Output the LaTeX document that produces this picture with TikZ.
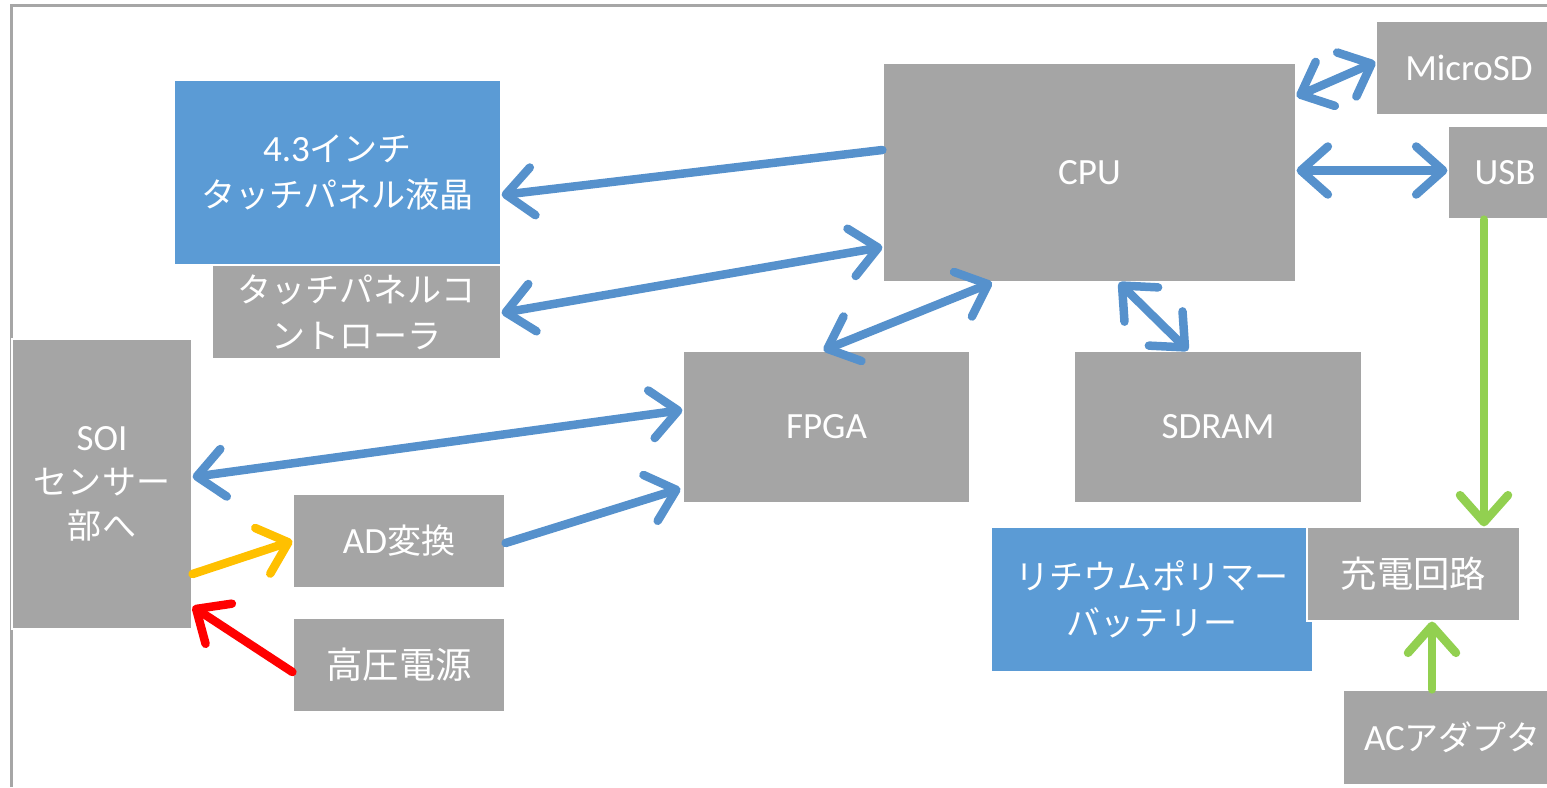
\documentclass[tikz,border=0pt]{standalone}
\usepackage{fontspec}
\setmainfont{Carlito}
\newfontfamily\jp[Scale=0.92]{Noto Sans CJK JP}
\newcommand\J[1]{{\jp #1}}
\usetikzlibrary{arrows.meta,calc}
\definecolor{boxgray}{HTML}{A5A5A5}
\definecolor{boxblue}{HTML}{5B9BD5}
\definecolor{arrblue}{HTML}{5691CC}
\definecolor{arrgreen}{HTML}{92D050}
\definecolor{arryellow}{HTML}{FFC000}
\definecolor{arrred}{HTML}{FF0000}
\definecolor{framegray}{HTML}{A6A6A6}
\begin{document}
\begin{tikzpicture}[x=1pt,y=-1pt,
  box/.style={fill=boxgray, draw=white, line width=1.2pt, text=white, inner sep=0pt, align=center, font=\fontsize{37}{46}\selectfont},
  bluebox/.style={box, fill=boxblue},
  bigtext/.style={font=\fontsize{39.5}{46}\selectfont},
  conn/.style={line width=8.5pt, line cap=round, line join=round},
  >={Straight Barb[length=27pt,width=48pt,line cap=round,line join=round]}
]
\useasboundingbox (0,0) rectangle (1547,787);
% frame
\draw[framegray, line width=3pt] (11,787) -- (11,5) -- (1547,5);
% boxes
\node[bluebox, minimum width=327pt, minimum height=185pt] (lcd) at (337.5,172.5) {4.3\J{インチ}\\\J{タッチパネル液晶}};
\node[box, minimum width=289pt, minimum height=94pt] (ctrl) at (356.5,312) {\J{タッチパネルコ}\\\J{ントローラ}};
\node[box, minimum width=413pt, minimum height=219pt] (cpu) at (1089.5,172.5) {CPU};
\node[box, minimum width=186pt, minimum height=94pt] (sd) at (1469,68) {MicroSD};
\node[box, minimum width=114pt, minimum height=93pt] (usb) at (1505,172.5) {USB};
\node[box, minimum width=180pt, minimum height=290pt, font=\fontsize{37}{44}\selectfont] (soi) at (102,484) {SOI\\\J{センサー}\\\J{部へ}};
\node[box, minimum width=287pt, minimum height=152pt] (fpga) at (826.5,427) {FPGA};
\node[box, minimum width=288pt, minimum height=152pt] (sdram) at (1218,427) {SDRAM};
\node[box, minimum width=212pt, minimum height=94pt] (ad) at (399,541) {AD\J{変換}};
\node[box, bigtext, minimum width=212pt, minimum height=94pt] (hv) at (399,665) {\J{高圧電源}};
\node[bluebox, minimum width=322pt, minimum height=145pt] (bat) at (1152,599.5) {\J{リチウムポリマー}\\\J{バッテリー}};
\node[box, bigtext, minimum width=213pt, minimum height=94pt] (chg) at (1413.5,574) {\J{充電回路}};
\node[box, minimum width=219pt, minimum height=95pt] (ac) at (1452.5,737.5) {AC\J{アダプタ}};
% connectors
\draw[conn, arrblue, ->] ($(cpu.west)+(0,-22.5)$) -- ($(lcd.east)+(0,22.5)$);
\draw[conn, arrblue, <->] ($(ctrl.east)+(0,1)$) -- ($(cpu.west)+(0,74.5)$);
\draw[conn, arrblue, <->] ($(fpga.north)+(-3,0)$) -- ($(cpu.south)+(-97.5,0)$);
\draw[conn, arrblue, <->] ($(cpu.south)+(29.5,0)$) -- ($(sdram.north)+(-30,0)$);
\draw[conn, arrblue, <->] ($(cpu.north east)+(0,34)$) -- ($(sd.west)+(0,-6)$);
\draw[conn, arrblue, <->] ($(cpu.east)+(0,-2)$) -- ($(usb.west)+(0,-2)$);
\draw[conn, arrblue, <->] ($(soi.east)+(0,-7)$) -- ($(fpga.west)+(0,-17)$);
\draw[conn, arrblue, ->] ($(ad.east)+(0,2)$) -- ($(fpga.south west)+(-2,-15)$);
\draw[conn, arryellow, ->] ($(soi.east)+(0,90)$) -- (ad.west);
\draw[conn, arrred, ->] ($(hv.west)+(0,7)$) -- ($(soi.south east)+(0,-23)$);
\draw[conn, arrgreen, ->] ($(usb.south)+(-21,0)$) -- ($(chg.north)+(70.5,0)$);
\draw[conn, arrgreen, ->] ($(ac.north)+(-20.5,0)$) -- ($(chg.south)+(18.5,0)$);
\end{tikzpicture}
\end{document}
